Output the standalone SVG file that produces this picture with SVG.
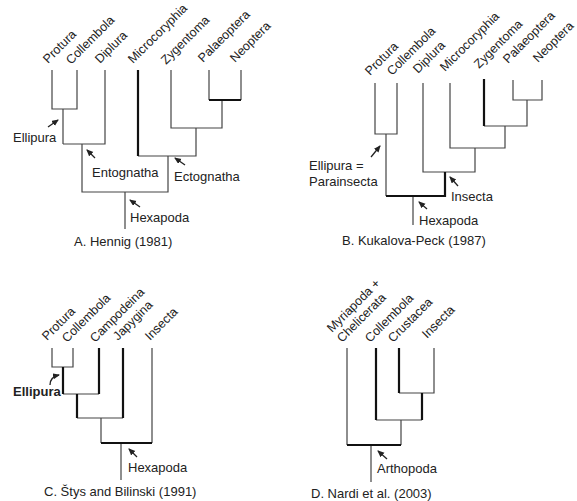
<svg xmlns="http://www.w3.org/2000/svg" width="577" height="501" viewBox="0 0 577 501">
<defs>
<style>
.t{stroke:#444;stroke-width:1.2;fill:none}
.k{stroke:#111;stroke-width:2.2;fill:none}
.a{stroke:#222;stroke-width:1.3;fill:none;marker-end:url(#ah)}
text{font-family:"Liberation Sans",Arial,sans-serif;fill:#222;font-size:13px}
.r{font-size:12.5px}
</style>
<marker id="ah" markerUnits="userSpaceOnUse" markerWidth="8" markerHeight="8" refX="6" refY="3" orient="auto"><path d="M0,0 L7,3 L0,6 z" fill="#222"/></marker>
</defs>
<rect width="577" height="501" fill="#fff"/>
<g id="connectors">
<!-- A -->
<path class="t" d="M52,70 V109 H77 V70 M63,109 V144 M105,70 V144 H63 M82,144 V192 H168 V156 M125,192 V229 M171,70 V128 H222 V100 M196,128 V156 H138 M209,70 V100 M241,70 V100"/>
<path class="k" d="M138,70 V156 M209,100 H241"/>
<!-- B -->
<path class="t" d="M375,83 V134 H397 V83 M386,134 V196 M423,83 V172 H475 V148 M450,83 V148 H505 V126 M513,80 V100 H542 V80 M527,100 V126 H484 M413,196 V225"/>
<path class="k" d="M484,79 V126 M445,172 V196 H386"/>
<!-- C -->
<path class="t" d="M52,348 V367 H73 V348 M63,394 H99 M77,418 H123 M101,418 V443 M152,348 V443 M121,443 V480"/>
<path class="k" d="M63,367 V394 M99,348 V394 M77,394 V418 M123,348 V418 M101,443 H152"/>
<!-- D -->
<path class="t" d="M347,348 V445 M434,348 V393 H399 M376,420 H422 M401,420 V445 M371,445 V482"/>
<path class="k" d="M376,348 V420 M399,348 V393 M422,393 V420 M347,445 H401"/>
<!-- arrows -->
<path class="a" d="M48,127 L58,120"/>
<path class="a" d="M95,158 L87,150"/>
<path class="a" d="M185,165 L175,158"/>
<path class="a" d="M140,207 L130,200"/>
<path class="a" d="M371,157 L380,146"/>
<path class="a" d="M458,186 L450,177"/>
<path class="a" d="M427,209 L419,202"/>
<path class="a" d="M50,385 Q50,377 59,375"/>
<path class="a" d="M137,457 L129,449"/>
<path class="a" d="M387,459 L378,451"/>
</g>
<g id="panelA">
<text class="r" transform="translate(48,64) rotate(-45)">Protura</text>
<text class="r" transform="translate(71,65) rotate(-45)">Collembola</text>
<text class="r" transform="translate(100,64) rotate(-45)">Diplura</text>
<text class="r" transform="translate(133,64) rotate(-45)">Microcoryphia</text>
<text class="r" transform="translate(166,65) rotate(-45)">Zygentoma</text>
<text class="r" transform="translate(203,63) rotate(-45)">Palaeoptera</text>
<text class="r" transform="translate(235,63) rotate(-45)">Neoptera</text>
<text x="13" y="142">Ellipura</text>
<text x="92" y="177">Entognatha</text>
<text x="174" y="181">Ectognatha</text>
<text x="130" y="222">Hexapoda</text>
<text x="74" y="246">A. Hennig (1981)</text>
</g>
<g id="panelB">
<text class="r" transform="translate(370,76) rotate(-45)">Protura</text>
<text class="r" transform="translate(392,76) rotate(-45)">Collembola</text>
<text class="r" transform="translate(418,74) rotate(-45)">Diplura</text>
<text class="r" transform="translate(445,72) rotate(-45)">Microcoryphia</text>
<text class="r" transform="translate(479,69) rotate(-45)">Zygentoma</text>
<text class="r" transform="translate(508,64) rotate(-45)">Palaeoptera</text>
<text class="r" transform="translate(538,63) rotate(-45)">Neoptera</text>
<text x="309" y="170">Ellipura =</text>
<text x="309" y="186">Parainsecta</text>
<text x="451" y="201">Insecta</text>
<text x="419" y="225">Hexapoda</text>
<text x="342" y="245">B. Kukalova-Peck (1987)</text>
</g>
<g id="panelC">
<text class="r" transform="translate(47,341) rotate(-45)">Protura</text>
<text class="r" transform="translate(67,343) rotate(-45)">Collembola</text>
<text class="r" transform="translate(95,343) rotate(-45)">Campodeina</text>
<text class="r" transform="translate(118,341) rotate(-45)">Japygina</text>
<text class="r" transform="translate(150,341) rotate(-45)">Insecta</text>
<text x="13" y="396" font-weight="bold" font-size="12">Ellipura</text>
<text x="128" y="472">Hexapoda</text>
<text x="44" y="496">C. Štys and Bilinski (1991)</text>
</g>
<g id="panelD">
<text class="r" transform="translate(332,333) rotate(-45)">Myriapoda +</text>
<text class="r" transform="translate(342,343) rotate(-45)">Chelicerata</text>
<text class="r" transform="translate(370,343) rotate(-45)">Collembola</text>
<text class="r" transform="translate(393,343) rotate(-45)">Crustacea</text>
<text class="r" transform="translate(427,339) rotate(-45)">Insecta</text>
<text x="377" y="473">Arthopoda</text>
<text x="311" y="498">D. Nardi et al. (2003)</text>
</g>
</svg>
